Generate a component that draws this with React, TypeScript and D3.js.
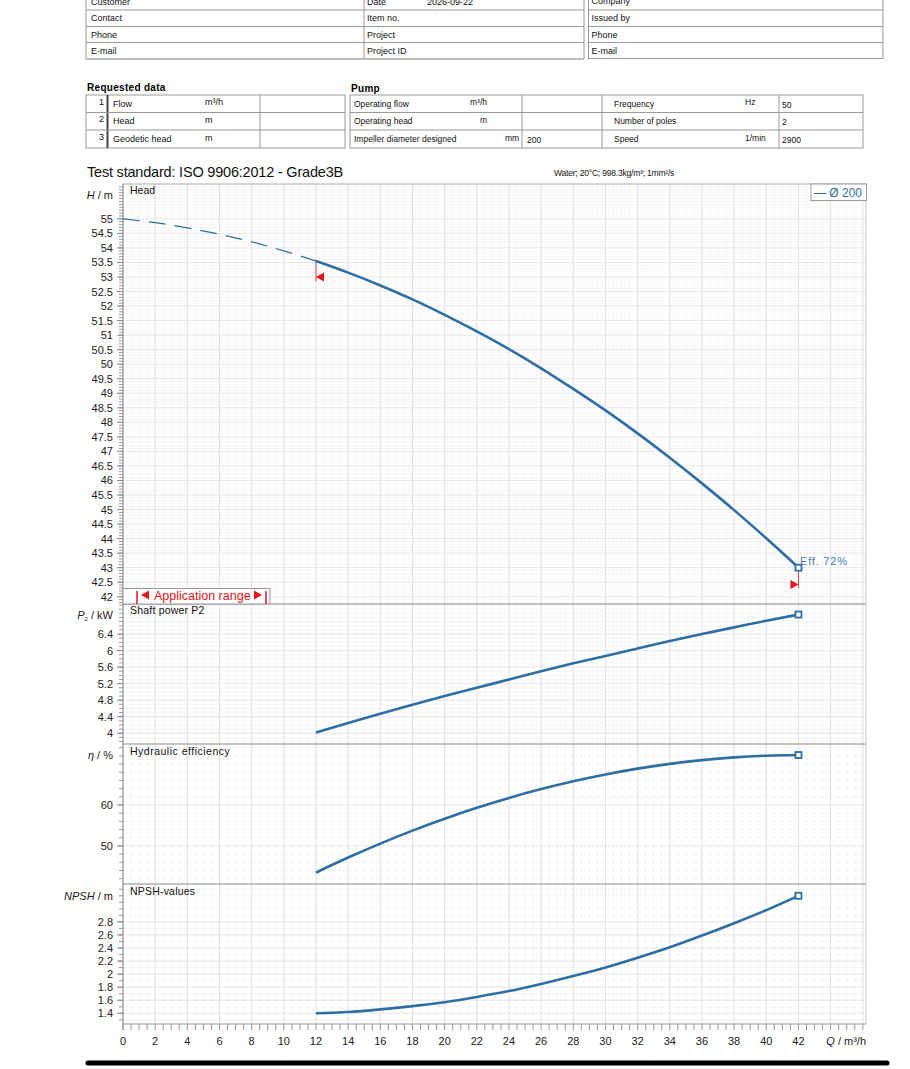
import React from 'react';
import * as d3 from 'd3';

const flowHead = [0, 2, 4, 6, 8, 10, 12, 14, 16, 18, 20, 22, 24, 26, 28, 30, 32, 34, 36, 38, 40, 42];
const headValues = [55.0, 54.87, 54.69, 54.47, 54.21, 53.9, 53.55, 53.15, 52.71, 52.23, 51.7, 51.13, 50.52, 49.86, 49.15, 48.41, 47.62, 46.78, 45.9, 44.98, 44.01, 43.0];
const flowOperating = [12, 14, 16, 18, 20, 22, 24, 26, 28, 30, 32, 34, 36, 38, 40, 42];
const powerValues = [4.02, 4.25, 4.47, 4.69, 4.9, 5.1, 5.3, 5.5, 5.69, 5.87, 6.05, 6.23, 6.4, 6.56, 6.72, 6.87];
const efficiencyValues = [43.5, 47.16, 50.57, 53.74, 56.64, 59.31, 61.73, 63.88, 65.8, 67.46, 68.88, 70.05, 70.96, 71.63, 72.04, 72.21];
const npshValues = [1.4, 1.42, 1.46, 1.51, 1.57, 1.65, 1.74, 1.85, 1.97, 2.1, 2.25, 2.41, 2.59, 2.78, 2.98, 3.2];

const xTickLabels = [0, 2, 4, 6, 8, 10, 12, 14, 16, 18, 20, 22, 24, 26, 28, 30, 32, 34, 36, 38, 40, 42];
const headTickLabels = [42, 42.5, 43, 43.5, 44, 44.5, 45, 45.5, 46, 46.5, 47, 47.5, 48, 48.5, 49, 49.5, 50, 50.5, 51, 51.5, 52, 52.5, 53, 53.5, 54, 54.5, 55];
const powerTickLabels = [4, 4.4, 4.8, 5.2, 5.6, 6, 6.4];
const effTickLabels = [50, 60];
const npshTickLabels = [1.4, 1.6, 1.8, 2, 2.2, 2.4, 2.6, 2.8];

const custCol = ['Customer', 'Contact', 'Phone', 'E-mail'];
const itemCol = ['Date', 'Item no.', 'Project', 'Project ID'];
const companyCol = ['Company', 'Issued by', 'Phone', 'E-mail'];
const reqRows = [['1', 'Flow', 'm³/h'], ['2', 'Head', 'm'], ['3', 'Geodetic head', 'm']];
const pumpRows = [['Operating flow', 'm³/h', ''], ['Operating head', 'm', ''], ['Impeller diameter designed', 'mm', '200']];
const pumpRight = [['Frequency', 'Hz', '50'], ['Number of poles', '', '2'], ['Speed', '1/min', '2900']];

const FONT = "'Liberation Sans', Arial, sans-serif";
const BLUE = '#2f6ea5';
const RED = '#e8141b';

const X0 = 123, X1 = 866;
const x = d3.scaleLinear().domain([0, 46.2]).range([X0, X1]);
const yH = d3.scaleLinear().domain([41.75, 56.2]).range([604, 184]);
const yP = d3.scaleLinear().domain([3.74, 7.125]).range([744, 604]);
const yE = d3.scaleLinear().domain([40.7, 74.9]).range([884, 744]);
const yN = d3.scaleLinear().domain([1.236, 3.38]).range([1024, 884]);

function rng(a: number, b: number, s: number) {
  const out: number[] = [];
  for (let v = a; v <= b + 1e-9; v += s) out.push(Math.round(v * 1000) / 1000);
  return out;
}

type Panel = { y: d3.ScaleLinear<number, number>; labels: number[]; minor: number[]; top: number; bottom: number };

const panels: Panel[] = [
  { y: yH, labels: headTickLabels, minor: rng(41.8, 56.2, 0.1), top: 184, bottom: 604 },
  { y: yP, labels: powerTickLabels, minor: rng(3.8, 7.1, 0.1), top: 604, bottom: 744 },
  { y: yE, labels: effTickLabels, minor: rng(42, 74, 2), top: 744, bottom: 884 },
  { y: yN, labels: npshTickLabels, minor: rng(1.3, 3.3, 0.1), top: 884, bottom: 1024 },
];

export default function App() {
  const headPts = flowHead.map((q, i) => [q, headValues[i]] as [number, number]);
  const dashedPts = headPts.filter((p) => p[0] <= 12);
  const solidPts = headPts.filter((p) => p[0] >= 12);
  const lineH = d3.line<[number, number]>().x((d) => x(d[0])).y((d) => yH(d[1])).curve(d3.curveMonotoneX);
  const mk = (ys: d3.ScaleLinear<number, number>, vals: number[]) =>
    d3.line<number>().x((_, i) => x(flowOperating[i])).y((d) => ys(d)).curve(d3.curveMonotoneX)(vals) || '';

  const xMinor = rng(0, 46, 0.5);
  const xMajor = rng(0, 46, 2);

  const tableText = (t: string, tx: number, ty: number, anchor = 'start', size = 9) => (
    <text x={tx} y={ty} fontSize={size} textAnchor={anchor as any} fontFamily={FONT} fill="#111">{t}</text>
  );

  const topRows = [-6, 10, 26.5, 42.5, 58.5];
  const reqY = [95, 112.5, 130, 148];

  const fmt = (v: number) => String(v);

  const qEnd = flowOperating[flowOperating.length - 1];
  const qStart = flowOperating[0];

  return (
    <svg width={910} height={1069} style={{ position: 'absolute', left: 0, top: 0, background: '#fff' }} fontFamily={FONT}>
      <rect x={0} y={0} width={910} height={1069} fill="#fff" />
      {/* top contact tables */}
      <g>
        <rect x={86} y={-6} width={498} height={64.5} fill="none" stroke="#999" strokeWidth={1} />
        <line x1={86} x2={584} y1={59} y2={59} stroke="#bbb" strokeWidth={2} />
        <line x1={364} x2={364} y1={-6} y2={58.5} stroke="#999" />
        {topRows.slice(1, 4).map((r) => (
          <line key={r} x1={86} x2={584} y1={r} y2={r} stroke="#999" />
        ))}
        {custCol.map((t, i) => <g key={t + i}>{tableText(t, 91, (topRows[i] + topRows[i + 1]) / 2 + 3)}</g>)}
        {itemCol.map((t, i) => <g key={t + i}>{tableText(t, 367, (topRows[i] + topRows[i + 1]) / 2 + 3)}</g>)}
        {tableText('2026-09-22', 427, 4.5)}
        <rect x={588.5} y={-6} width={294.5} height={64.5} fill="none" stroke="#999" strokeWidth={1} />
        {topRows.slice(1, 4).map((r) => (
          <line key={'r' + r} x1={588.5} x2={883} y1={r} y2={r} stroke="#999" />
        ))}
        {companyCol.map((t, i) => <g key={'c' + t + i}>{tableText(t, 591.5, (topRows[i] + topRows[i + 1]) / 2 + 3 + (i === 0 ? -1 : 0))}</g>)}
      </g>

      {/* requested data */}
      <g>
        <text x={87} y={91} fontSize={10} fontWeight="bold" fontFamily={FONT} letterSpacing={0.3}>Requested data</text>
        <rect x={86} y={95} width={259} height={53} fill="none" stroke="#999" />
        <line x1={107.5} x2={107.5} y1={95} y2={148} stroke="#444" strokeWidth={2} />
        <line x1={260} x2={260} y1={95} y2={148} stroke="#999" />
        {reqY.slice(1, 3).map((r) => <line key={'q' + r} x1={86} x2={345} y1={r} y2={r} stroke="#999" />)}
        {reqRows.map((row, i) => (
          <g key={'rq' + i}>
            {tableText(row[0], 104, (reqY[i] + reqY[i + 1]) / 2 + 1, 'end')}
            {tableText(row[1], 113, (reqY[i] + reqY[i + 1]) / 2 + 3)}
            {tableText(row[2], 205, (reqY[i] + reqY[i + 1]) / 2 + 1.5)}
          </g>
        ))}
        <text x={351} y={92} fontSize={10} fontWeight="bold" fontFamily={FONT} letterSpacing={0.3}>Pump</text>
        <rect x={350} y={95} width={513} height={53} fill="none" stroke="#999" />
        <line x1={522} x2={522} y1={95} y2={148} stroke="#999" />
        <line x1={602} x2={602} y1={95} y2={148} stroke="#999" />
        <line x1={779} x2={779} y1={95} y2={148} stroke="#999" />
        {reqY.slice(1, 3).map((r) => <line key={'p' + r} x1={350} x2={863} y1={r} y2={r} stroke="#999" />)}
        {pumpRows.map((row, i) => (
          <g key={'pr' + i}>
            {tableText(row[0], 354, (reqY[i] + reqY[i + 1]) / 2 + 3, 'start', 8.5)}
            {tableText(row[1], i === 0 ? 470 : i === 1 ? 480 : 505, (reqY[i] + reqY[i + 1]) / 2 + 1.5, 'start', 8.5)}
            {row[2] ? tableText(row[2], 527, (reqY[i] + reqY[i + 1]) / 2 + 3.5, 'start', 8.5) : null}
          </g>
        ))}
        {pumpRight.map((row, i) => (
          <g key={'pq' + i}>
            {tableText(row[0], 614, (reqY[i] + reqY[i + 1]) / 2 + 3, 'start', 8.5)}
            {row[1] ? tableText(row[1], 745, (reqY[i] + reqY[i + 1]) / 2 + 1.5, 'start', 8.5) : null}
            {tableText(row[2], 782, (reqY[i] + reqY[i + 1]) / 2 + 4, 'start', 8.5)}
          </g>
        ))}
      </g>

      {/* titles */}
      <text x={87} y={176.5} fontSize={14.5} fontFamily={FONT} fill="#111" letterSpacing={-0.2}>Test standard: ISO 9906:2012 - Grade3B</text>
      <text x={554} y={175.5} fontSize={8.5} fontFamily={FONT} fill="#111" letterSpacing={-0.2}>Water; 20°C; 998.3kg/m³; 1mm²/s</text>

      {/* grids */}
      <g>
        {xMinor.map((q) => (
          <line key={'gx' + q} x1={x(q)} x2={x(q)} y1={184} y2={1024} stroke="#f5f5f5" />
        ))}
        {panels.map((p, pi) => (
          <g key={'pg' + pi}>
            {p.minor.filter((v) => p.y(v) > p.top + 1 && p.y(v) < p.bottom - 1).map((v) => (
              <line key={'m' + v} x1={X0} x2={X1} y1={p.y(v)} y2={p.y(v)} stroke="#f6f6f6" />
            ))}
          </g>
        ))}
        {xMajor.map((q) => (
          <line key={'gX' + q} x1={x(q)} x2={x(q)} y1={184} y2={1024} stroke="#e2e2e2" />
        ))}
        {panels.map((p, pi) => (
          <g key={'pG' + pi}>
            {p.labels.map((v) => (
              <line key={'M' + v} x1={X0} x2={X1} y1={p.y(v)} y2={p.y(v)} stroke="#e8e8e8" />
            ))}
          </g>
        ))}
      </g>

      {/* frames */}
      <line x1={X0} x2={X1} y1={184} y2={184} stroke="#aaa" />
      <line x1={X0} x2={X1} y1={604} y2={604} stroke="#888" />
      <line x1={X0} x2={X1} y1={744} y2={744} stroke="#888" />
      <line x1={X0} x2={X1} y1={884} y2={884} stroke="#888" />
      <line x1={X0} x2={X1} y1={1024} y2={1024} stroke="#999" />
      <line x1={X1} x2={X1} y1={184} y2={1024} stroke="#ccc" />
      <line x1={X0} x2={X0} y1={184} y2={1030} stroke="#888" />

      {/* y axes */}
      {panels.map((p, pi) => (
        <g key={'ya' + pi}>
          {p.minor.filter((v) => p.y(v) > p.top + 1 && p.y(v) < p.bottom - 1).map((v) => (
            <line key={'t' + v} x1={X0 - 4} x2={X0} y1={p.y(v)} y2={p.y(v)} stroke="#999" />
          ))}
          {p.labels.map((v) => (
            <g key={'T' + v}>
              <line x1={X0 - 6} x2={X0} y1={p.y(v)} y2={p.y(v)} stroke="#888" />
              <text x={113} y={p.y(v) + 4} fontSize={11} textAnchor="end" fill="#222">{fmt(v)}</text>
            </g>
          ))}
        </g>
      ))}

      {/* axis titles */}
      <text x={113} y={199} fontSize={11} textAnchor="end" fill="#222"><tspan fontStyle="italic">H</tspan> / m</text>
      <text x={113} y={619} fontSize={11} textAnchor="end" fill="#222"><tspan fontStyle="italic">P</tspan><tspan fontSize={6} dy={2}>2</tspan><tspan dy={-2}> / kW</tspan></text>
      <text x={113} y={759} fontSize={11} textAnchor="end" fill="#222"><tspan fontStyle="italic">η</tspan> / %</text>
      <text x={113} y={900} fontSize={11} textAnchor="end" fill="#222"><tspan fontStyle="italic">NPSH</tspan> / m</text>

      {/* x axis */}
      {xMinor.map((q) => (
        <line key={'xt' + q} x1={x(q)} x2={x(q)} y1={1024} y2={1030} stroke="#999" />
      ))}
      {xTickLabels.map((q) => (
        <text key={'xl' + q} x={x(q)} y={1045} fontSize={11} textAnchor="middle" fill="#222">{q}</text>
      ))}
      <text x={866} y={1045} fontSize={11} textAnchor="end" fill="#222"><tspan fontStyle="italic">Q</tspan> / m³/h</text>

      {/* panel labels */}
      <text x={130} y={194} fontSize={10.5} fill="#111">Head</text>
      <text x={130} y={614} fontSize={10.5} fill="#111" letterSpacing={0.2}>Shaft power P2</text>
      <text x={130} y={755} fontSize={10.5} fill="#111" letterSpacing={0.5}>Hydraulic efficiency</text>
      <text x={130} y={895} fontSize={10.5} fill="#111" letterSpacing={0.2}>NPSH-values</text>

      {/* red operating range indicators */}
      <line x1={x(qStart)} x2={x(qStart)} y1={yH(headValues[6])} y2={yH(52.85)} stroke={RED} strokeWidth={0.8} />
      <path d={`M${x(qStart)},${yH(53.0)} l8,-4.5 l0,9 z`} fill={RED} />
      <line x1={x(qEnd)} x2={x(qEnd)} y1={yH(43.0)} y2={yH(42.3)} stroke={RED} strokeWidth={0.8} />
      <path d={`M${x(qEnd)},${yH(42.42)} l-8,-4.5 l0,9 z`} fill={RED} />

      {/* curves */}
      <path d={lineH(dashedPts) || ''} fill="none" stroke={BLUE} strokeWidth={1.2} strokeDasharray="17,9" />
      <path d={lineH(solidPts) || ''} fill="none" stroke={BLUE} strokeWidth={2.6} />
      <path d={mk(yP, powerValues)} fill="none" stroke={BLUE} strokeWidth={2.6} />
      <path d={mk(yE, efficiencyValues)} fill="none" stroke={BLUE} strokeWidth={2.6} />
      <path d={mk(yN, npshValues)} fill="none" stroke={BLUE} strokeWidth={2.6} />

      {[
        yH(headValues[headValues.length - 1]),
        yP(powerValues[powerValues.length - 1]),
        yE(efficiencyValues[efficiencyValues.length - 1]),
        yN(npshValues[npshValues.length - 1]),
      ].map((yy, i) => (
        <rect key={'sq' + i} x={x(qEnd) - 3} y={yy - 3} width={6} height={6} fill="#fff" stroke={BLUE} strokeWidth={1.8} />
      ))}
      <text x={800} y={565} fontSize={11} fill="#4d7fb0" letterSpacing={0.8}>Eff. 72%</text>

      {/* application range */}
      <rect x={X0} y={588.5} width={147} height={15.5} fill="#fff" stroke="#999" />
      <line x1={137} x2={137} y1={591} y2={604} stroke={RED} strokeWidth={1.5} />
      <path d="M141,595 l8,-4.5 l0,9 z" fill={RED} />
      <text x={154} y={599.5} fontSize={12.5} fill={RED}>Application range</text>
      <path d="M262,595 l-8,-4.5 l0,9 z" fill={RED} />
      <line x1={266} x2={266} y1={591} y2={604} stroke={RED} strokeWidth={1.5} />

      {/* legend */}
      <rect x={811} y={184} width={55.5} height={16.5} fill="#fff" stroke="#999" />
      <text x={814} y={196.5} fontSize={12} fill={BLUE}>— Ø 200</text>

      {/* bottom bar */}
      <line x1={88} x2={887} y1={1063} y2={1063} stroke="#000" strokeWidth={5} strokeLinecap="round" />
    </svg>
  );
}
